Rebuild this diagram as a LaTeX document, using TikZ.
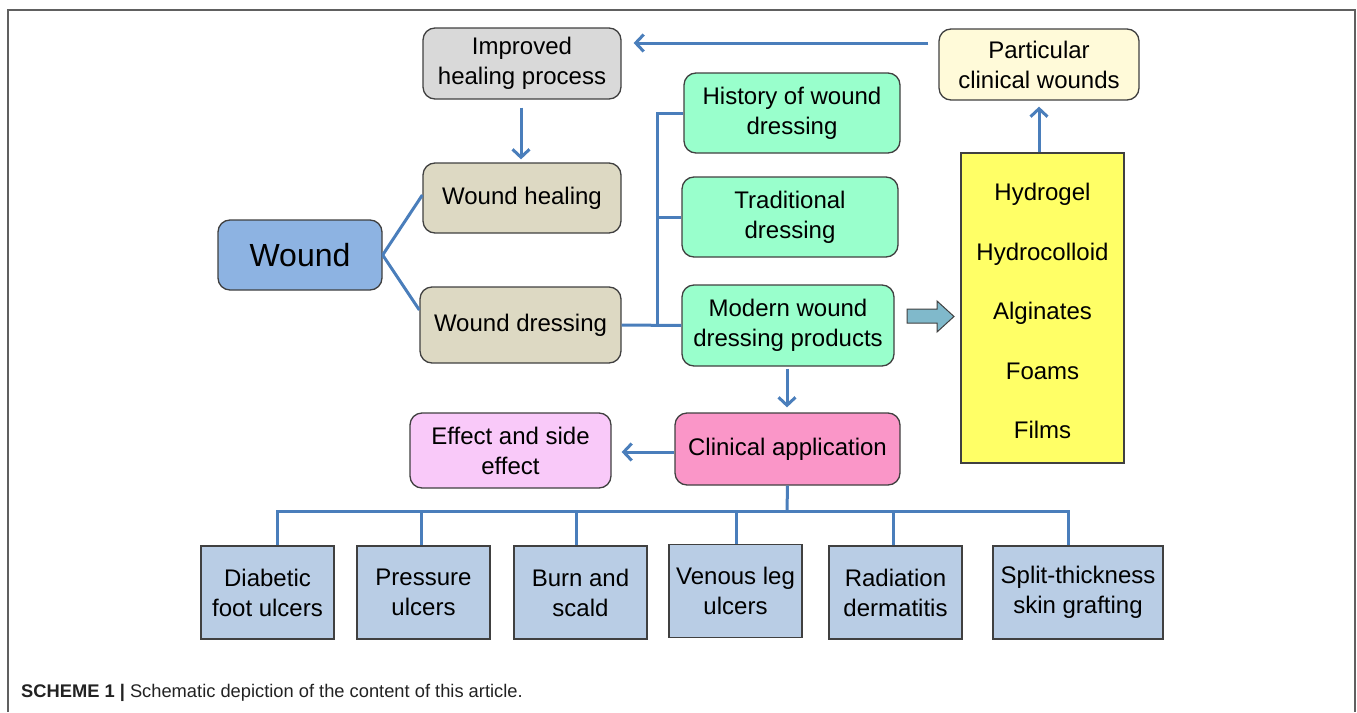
\documentclass[tikz,border=0pt]{standalone}
\usepackage{fontspec}
\setmainfont{Liberation Sans}
\usetikzlibrary{arrows.meta}
\definecolor{boxline}{HTML}{404040}
\definecolor{linkblue}{HTML}{4A7EBB}
\definecolor{grayfill}{HTML}{D9D9D9}
\definecolor{tanfill}{HTML}{DDD9C3}
\definecolor{woundfill}{HTML}{8DB3E2}
\definecolor{mintfill}{HTML}{99FFCC}
\definecolor{creamfill}{HTML}{FFFAD9}
\definecolor{yellowfill}{HTML}{FFFF66}
\definecolor{pinkfill}{HTML}{FA96C8}
\definecolor{lilacfill}{HTML}{F9C9F9}
\definecolor{bottomblue}{HTML}{B9CDE5}
\definecolor{blockfill}{HTML}{80B9CB}
\definecolor{framegray}{HTML}{606060}
\definecolor{captxt}{HTML}{222222}
\begin{document}
\begin{tikzpicture}[x=1pt,y=-1pt,
  sz/.style 2 args={minimum width=#1pt, minimum height=#2pt},
  box/.style={draw=boxline, line width=1.3pt, rounded corners=12pt, align=center, inner sep=0pt, font=\fontsize{24}{30}\selectfont},
  sqbox/.style={box, rounded corners=0pt, fill=bottomblue},
  conn/.style={draw=linkblue, line width=3pt},
  arr/.style={conn, -{Straight Barb[length=8pt,width=17pt]}}
]
\useasboundingbox (0,0) rectangle (1357,712);
% frame
\draw[framegray, line width=1.6pt] (8,712) -- (8,10) -- (1355,10) -- (1355,712);

% nodes
\node[box, fill=grayfill, sz={198}{71}] (imp) at (522,63.5) {Improved\\healing process};
\node[box, fill=creamfill, sz={200}{71}] (part) at (1039,64.5) {Particular\\clinical wounds};
\node[box, fill=woundfill, sz={164}{70}, font=\fontsize{32}{36}\selectfont] (wound) at (300,255) {Wound};
\node[box, fill=tanfill, sz={198}{70}] (heal) at (522,198) {Wound healing};
\node[box, fill=tanfill, sz={201}{76}] (dress) at (520.5,325) {Wound dressing};
\node[box, fill=mintfill, sz={216}{80}] (hist) at (792,113) {History of wound\\dressing};
\node[box, fill=mintfill, sz={216}{80}] (trad) at (790,217) {Traditional\\dressing};
\node[box, fill=mintfill, sz={212}{81}] (modern) at (788,325.5) {Modern wound\\dressing products};
\node[box, rounded corners=0pt, fill=yellowfill, sz={163}{310}, font=\fontsize{24}{59.5}\selectfont] (types) at (1042.5,308) {\raisebox{-4pt}{\begin{tabular}{@{}c@{}}Hydrogel\\Hydrocolloid\\Alginates\\Foams\\Films\end{tabular}}};
\node[box, fill=pinkfill, sz={225}{72}] (clin) at (787.5,449) {Clinical application};
\node[box, fill=lilacfill, sz={201}{75}] (effect) at (510.5,450.5) {Effect and side\\effect};

\node[sqbox, sz={133}{93}] (diab) at (267.5,592.5) {Diabetic\\foot ulcers};
\node[sqbox, sz={133}{93}] (press) at (423.5,592.5) {Pressure\\ulcers};
\node[sqbox, sz={133}{93}] (burn) at (580.5,592.5) {Burn and\\scald};
\node[sqbox, sz={133}{93}] (venous) at (735.5,591) {Venous leg\\ulcers};
\node[sqbox, sz={133}{93}] (rad) at (895.5,592.5) {Radiation\\dermatitis};
\node[sqbox, sz={170}{93}] (split) at (1078,592.5) {Split-thickness\\skin grafting};

% caption
\node[anchor=west, inner sep=0pt, text=captxt, font=\fontsize{18.3}{21}\selectfont] (cap) at (21,693) {\textbf{SCHEME 1 |} Schematic depiction of the content of this article.};

% connectors
\draw[arr] ([xshift=-10pt, yshift=21.5pt]part.west) -- ([xshift=12pt, yshift=20.5pt]imp.east);
\draw[arr, shorten <=8pt, shorten >=3pt] ([xshift=-1pt]imp.south) -- ([xshift=-1pt]heal.north);
\draw[conn] (wound.east) -- ([yshift=3pt]heal.west);
\draw[conn] (wound.east) -- ([yshift=15pt]dress.west);
\draw[conn] (dress.east) -- (modern.west);
\draw[conn] (hist.west) -- ++(-26,0) |- (modern.west);
\draw[conn] (trad.west) -- ++(-24,0);
\draw[arr, shorten <=2pt, shorten >=5pt] ([xshift=-1pt]modern.south) -- ([xshift=-0.5pt]clin.north);
\draw[arr, shorten >=6pt] ([xshift=-3.5pt]types.north) -- ([xshift=0pt]part.south);
\draw[arr, shorten >=10pt] ([yshift=-3pt]clin.west) -- ([yshift=-1.5pt]effect.east);

% block arrow
\draw[boxline, line width=1pt, fill=blockfill] (907,309) -- (937,309) -- (937,301) -- (954,316.5) -- (937,332) -- (937,323) -- (907,323) -- cycle;

% bus to bottom boxes
\coordinate (bus) at (787,511);
\draw[conn] (clin.south) -- (bus);
\draw[conn] ([xshift=9.5pt]diab.north) |- ([xshift=-10pt]split.north |- bus) -- ([xshift=-10pt]split.north);
\draw[conn] ([xshift=-2.5pt]press.north) -- ([xshift=-2.5pt]press.north |- bus);
\draw[conn] ([xshift=-4.5pt]burn.north) -- ([xshift=-4.5pt]burn.north |- bus);
\draw[conn] ([xshift=0.5pt]venous.north) -- ([xshift=0.5pt]venous.north |- bus);
\draw[conn] ([xshift=-2.5pt]rad.north) -- ([xshift=-2.5pt]rad.north |- bus);
\end{tikzpicture}
\end{document}
